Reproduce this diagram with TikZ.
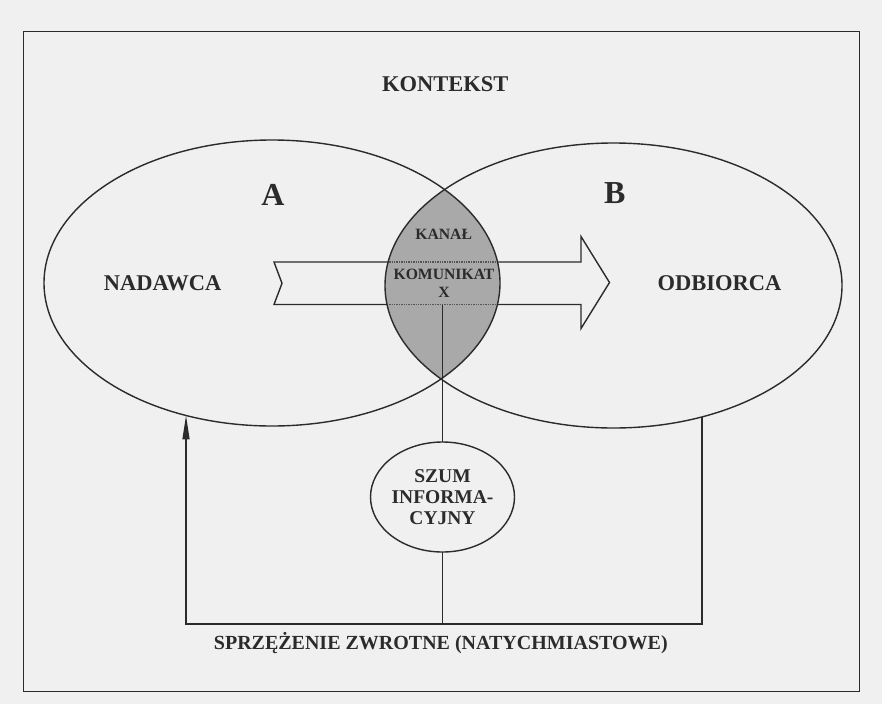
\documentclass[tikz,border=0pt]{standalone}
\usepackage{fontspec}
\setmainfont{Liberation Serif}
\usetikzlibrary{arrows.meta,shapes.geometric}
\definecolor{paper}{HTML}{F0F0F0}
\definecolor{ink}{HTML}{2B2B2B}
\definecolor{lensgray}{HTML}{A9A9A9}

\begin{document}
\begin{tikzpicture}[x=1pt,y=-1pt,line width=1.4pt,
  oval/.style={draw=ink,ellipse,inner sep=0pt,outer sep=0pt},
  lbl/.style={text=ink,anchor=base,inner sep=0pt,font=\bfseries\fontsize{22.5}{27}\selectfont},
  lblbig/.style={lbl,font=\bfseries\fontsize{32}{36}\selectfont},
  lblsmall/.style={lbl,align=center,font=\bfseries\fontsize{15.7}{18.3}\selectfont},
  lblfb/.style={lbl,font=\bfseries\fontsize{20}{24}\selectfont}]
 \useasboundingbox (0,0) rectangle (882,704);
 \fill[paper] (0,0) rectangle (882,704);
 \draw[ink,line width=1pt] (23.5,31.5) rectangle (859.5,691.5);
 % common part of A and B
 \begin{scope}
  \clip (272,283) ellipse (228 and 143);
  \fill[lensgray] (613.5,285.5) ellipse (228.5 and 142.6);
 \end{scope}
 % message arrow
 \draw[ink,line join=miter] (274,262) -- (581,262) -- (581,236.5) -- (609.5,282.5)
   -- (581,328.5) -- (581,304.5) -- (274,304.5) -- (282,283.3) -- cycle;
 \begin{scope}
  \clip (272,283) ellipse (228 and 143);
  \clip (613.5,285.5) ellipse (228.5 and 142.6);
  \draw[lensgray,line width=2.4pt] (370,262) -- (520,262) (370,304.5) -- (520,304.5);
  \draw[ink!80,densely dotted] (370,262) -- (520,262) (370,304.5) -- (520,304.5);
 \end{scope}
 \node[oval,minimum width=456pt,minimum height=286pt] (nadE) at (272,283) {};
 \node[oval,minimum width=457pt,minimum height=285pt] (odbE) at (613.5,285.5) {};
 % noise and feedback
 \node[oval,fill=paper,align=center,text=ink,minimum width=118pt,minimum height=110pt,
   font=\bfseries\fontsize{19.5}{20.7}\selectfont] (szum) at (442.5,497) {SZUM\\INFORMA-\\CYJNY};
 \coordinate (xfoot) at (442.5,304.5);
 \coordinate (fbmid) at (442.5,624);
 \draw[ink] (xfoot) -- (szum) -- (fbmid);
 \draw[ink,-{Triangle[length=24pt,width=7pt]}] (odbE.304.8) |- (fbmid) -| (nadE.237.7);
 % labels
 \node[lbl] (kontekst) at (445.3,91.7) {KONTEKST};
 \node[lblbig] (labA) at (273,205) {A};
 \node[lblbig] (labB) at (614.7,203) {B};
 \node[lbl] (nadawca) at (162.7,290.7) {NADAWCA};
 \node[lbl] (odbiorca) at (719.5,290.5) {ODBIORCA};
 \node[lblsmall] (kanal) at (443.7,239) {KANAŁ};
 \node[lblsmall] (komunikat) at (444,297.3) {KOMUNIKAT\\X};
 \node[lblfb] (sprzezenie) at (440.8,649.3) {SPRZĘŻENIE ZWROTNE (NATYCHMIASTOWE)};
\end{tikzpicture}
\end{document}
